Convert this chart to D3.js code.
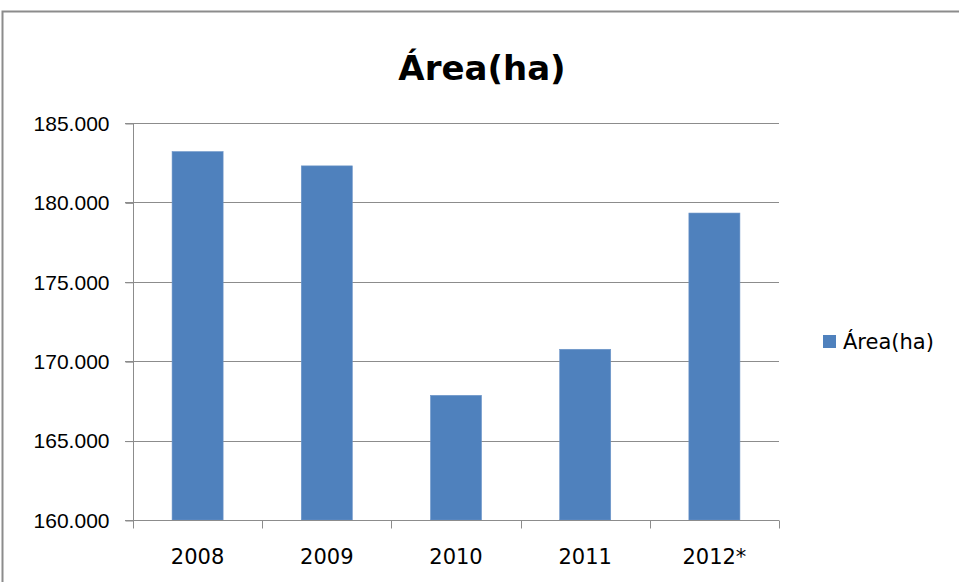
<!DOCTYPE html>
<html>
<head>
<meta charset="utf-8">
<script src="https://cdn.jsdelivr.net/npm/d3@7/dist/d3.min.js"></script>
<style>
  body { margin: 0; background: #fff; }
  svg { display: block; font-family: "DejaVu Sans", sans-serif; }
</style>
</head>
<body>
<svg id="chart" width="959" height="582"></svg>
<script>
// data
var years = ['2008', '2009', '2010', '2011', '2012*'];
var area = [183200, 182300, 167850, 170750, 179330];
var yTicks = [160000, 165000, 170000, 175000, 180000, 185000];
var seriesName = 'Área(ha)';

var svg = d3.select('#chart');

// outer frame (only top and left edges are in view)
svg.append('path')
  .attr('d', 'M2.5,582 V11.5 H959')
  .attr('fill', 'none')
  .attr('stroke', '#8c8c8c')
  .attr('stroke-width', 2);

var x = d3.scaleBand()
  .domain(years)
  .range([133, 779])
  .paddingInner(0.605)
  .paddingOuter(0.3025);

var y = d3.scaleLinear()
  .domain([160000, 185000])
  .range([520, 123]);

var fmt = d => d3.format(',.0f')(d).replace(/,/g, '.');

// gridlines
svg.append('g')
  .selectAll('line')
  .data(yTicks.slice(1))
  .join('line')
  .attr('x1', 125).attr('x2', 779)
  .attr('y1', d => Math.round(y(d)) + 0.5)
  .attr('y2', d => Math.round(y(d)) + 0.5)
  .attr('stroke', '#8c8c8c');

// y axis
var yAxis = svg.append('g')
  .attr('transform', 'translate(133.5,0.5)')
  .call(d3.axisLeft(y).tickValues(yTicks).tickFormat(fmt).tickSize(8).tickPadding(16));
yAxis.select('.domain').attr('stroke', '#8c8c8c').attr('d', 'M0,' + (y(185000) - 0.5) + 'V' + y(160000));
yAxis.selectAll('.tick line').attr('stroke', '#8c8c8c');
yAxis.selectAll('text').attr('fill', '#000').style('font-size', '21px');

// bars
svg.append('g')
  .selectAll('rect')
  .data(area)
  .join('rect')
  .attr('x', (d, i) => x(years[i]))
  .attr('y', d => y(d))
  .attr('width', x.bandwidth())
  .attr('height', d => y(160000) - y(d))
  .attr('fill', '#4f81bd')
  .attr('stroke', '#6d95c8')
  .attr('stroke-width', 0.6);

// x axis with ticks at band boundaries
var xb = svg.append('g').attr('transform', 'translate(0,' + (Math.round(y(160000)) + 0.5) + ')');
xb.append('line')
  .attr('x1', 125).attr('x2', 779)
  .attr('stroke', '#8c8c8c');
var bounds = years.map(d => x(d) - x.step() * x.paddingInner() / 2).concat([779]);
xb.selectAll('.tk')
  .data(bounds)
  .join('line')
  .attr('class', 'tk')
  .attr('x1', d => Math.round(d) + 0.5).attr('x2', d => Math.round(d) + 0.5)
  .attr('y1', 0).attr('y2', 8)
  .attr('stroke', '#8c8c8c');
xb.selectAll('text')
  .data(years)
  .join('text')
  .attr('x', d => x(d) + x.bandwidth() / 2)
  .attr('y', 43)
  .attr('text-anchor', 'middle')
  .style('font-size', '21px')
  .text(d => d);

// title
svg.append('text')
  .attr('x', 482)
  .attr('y', 80)
  .attr('text-anchor', 'middle')
  .style('font-size', '34px')
  .style('font-weight', 'bold')
  .text('Área(ha)');

// legend
var lg = svg.append('g').attr('transform', 'translate(823,335)');
lg.append('rect')
  .attr('width', 13).attr('height', 13)
  .attr('fill', '#4f81bd');
lg.append('text')
  .attr('x', 20)
  .attr('y', 14)
  .style('font-size', '21px')
  .text(seriesName);
</script>
</body>
</html>
